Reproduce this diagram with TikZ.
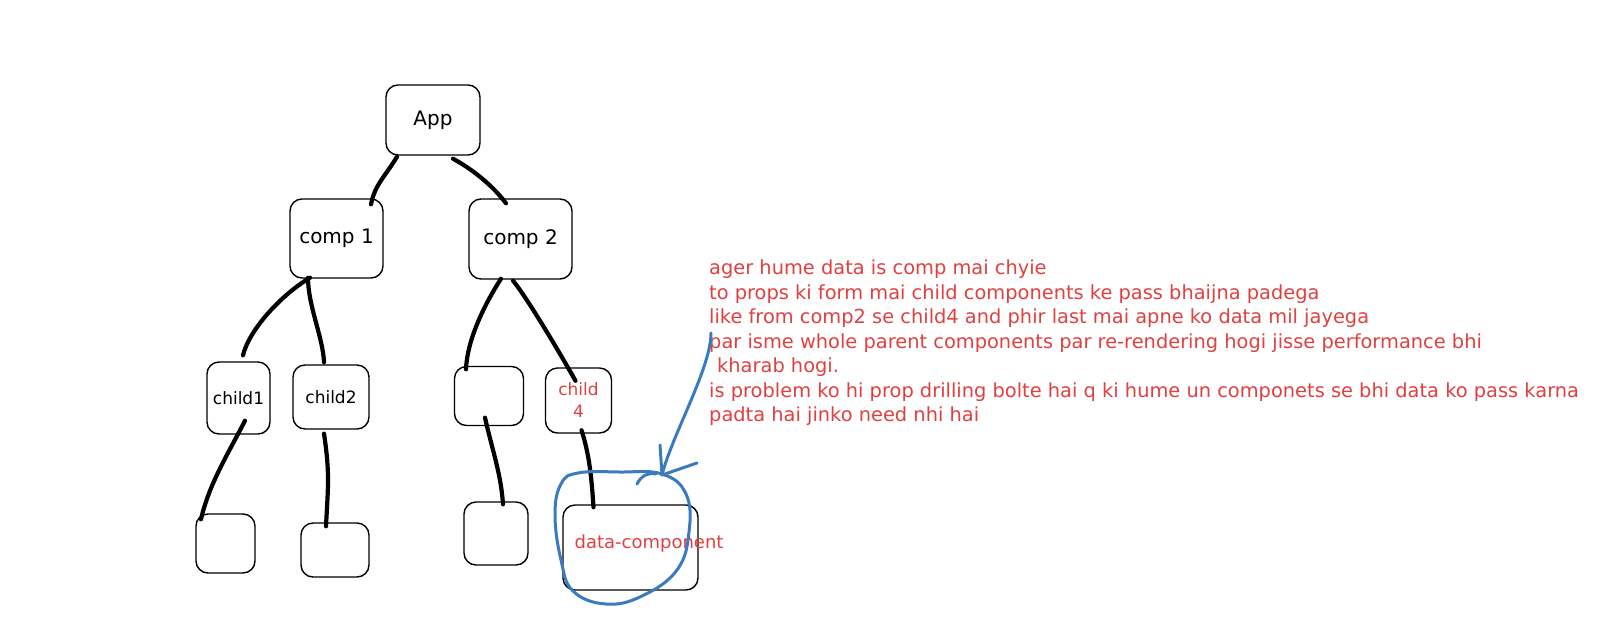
\documentclass[tikz,border=0pt]{standalone}
\usepackage{fontspec}
\setmainfont{DejaVu Sans}
\usepackage{xcolor}
\usetikzlibrary{arrows}
\usetikzlibrary{positioning}
\usetikzlibrary{calc}

\begin{document}
\begin{tikzpicture}[x=1pt, y=-1pt,
		box/.style={draw, rounded corners=12pt, line width=1.4pt, inner sep=0pt},
		link/.style={-, draw, line width=4.2pt, line cap=round, color=black},
		pen/.style={-, draw, line width=3pt, line cap=round, line join=round, color={BLUE!100}},
		bigfont/.style={font=\fontsize{20}{24}\selectfont},
		smallfont/.style={font=\fontsize{17}{20}\selectfont},
		redlabel/.style={text={RED!100}, font=\fontsize{17}{22}\selectfont, align=center}]
			\definecolor{RED}{RGB}{224, 64, 64}
			\definecolor{BLUE}{RGB}{58, 122, 190}
			\useasboundingbox (0, 0) rectangle (1600, 643);
			% tree of components
			\node[box, bigfont, minimum width=94, minimum height=70] (app) at (433, 120) {App};
			\node[box, bigfont, minimum width=93, minimum height=79] (comp1) at (336.5, 238.5) {comp 1};
			\node[box, bigfont, minimum width=103, minimum height=80] (comp2) at (520.5, 239) {comp 2};
			\node[box, smallfont, minimum width=63, minimum height=72] (child1) at (238.5, 398) {child1};
			\node[box, smallfont, minimum width=76, minimum height=64] (child2) at (331, 397) {child2};
			\node[box, minimum width=69, minimum height=59] (child3) at (489, 396) {};
			\node[box, redlabel, minimum width=66, minimum height=65] (child4) at (578.5, 400.5) {child\\4};
			\node[box, minimum width=59, minimum height=59] (leaf1) at (225.5, 543.5) {};
			\node[box, minimum width=68, minimum height=54] (leaf2) at (335, 550) {};
			\node[box, minimum width=64, minimum height=63] (leaf3) at (496, 533.5) {};
			\node[box, minimum width=135, minimum height=85] (datacomp) at (630.5, 547.5) {};
			\node[redlabel, font=\fontsize{18}{22}\selectfont] (datalabel) at (649, 544) {data-component};
			% note
			\node[anchor=north west, inner sep=0pt, align=left, text={RED!100}, font=\fontsize{19.4}{24.5}\selectfont] (note) at (709, 260) {ager hume data is comp mai chyie\\
				to props ki form mai child components ke pass bhaijna padega\\
				like from comp2 se child4 and phir last mai apne ko data mil jayega\\
				par isme whole parent components par re-rendering hogi jisse performance bhi\\
				\hspace*{8pt}kharab hogi.\\
				is problem ko hi prop drilling bolte hai q ki hume un componets se bhi data ko pass karna\\
				padta hai jinko need nhi hai};
			% links
			\draw[link] ($(app.south)+(-36,1)$) .. controls +(-12,20) and +(4,-20) .. ($(comp1.north)+(34.5,6)$);
			\draw[link] ($(app.south)+(20,3)$) .. controls +(22,12) and +(-12,-16) .. ($(comp2.north)+(-14.5,5)$);
			\draw[link] ($(comp1.south)+(-26.5,-1)$) .. controls +(-30,18) and +(6,-25) .. ($(child1.north)+(4.5,-6)$);
			\draw[link] ($(comp1.south)+(-28.5,-1)$) .. controls +(0,28) and +(-1,-25) .. ($(child2.north)+(-7,-2)$);
			\draw[link] ($(comp2.south)+(-19.5,-1)$) .. controls +(-18,28) and +(1,-28) .. ($(child3.north)+(-23,3.5)$);
			\draw[link] ($(comp2.south)+(-7.5,1)$) .. controls +(15,18) and +(-10,-18) .. ($(child4.north)+(-3,13.5)$);
			\draw[link] ($(child1.south)+(6.5,-14)$) .. controls +(-18,35) and +(8,-35) .. ($(leaf1.north)+(-24.5,6)$);
			\draw[link] ($(child2.south)+(-7,4)$) .. controls +(6,40) and +(2,-40) .. ($(leaf2.north)+(-9,4)$);
			\draw[link] ($(child3.south)+(-4,-8.5)$) .. controls +(8,35) and +(-2,-30) .. ($(leaf3.north)+(7,3)$);
			\draw[link] ($(child4.south)+(3,-3.5)$) .. controls +(8,25) and +(-2,-30) .. ($(datacomp.north)+(-37,3)$);
			% blue marks
			\coordinate (arrowstart) at (711, 333);
			\coordinate (arrowtip) at (662, 475);
			\draw[pen] plot[smooth cycle, tension=0.7] coordinates {(578, 473) (620, 472) (662, 474) (686, 494) (689, 532) (677, 570) (642, 596) (606, 604) (573, 591) (561, 560) (555, 515) (561, 484)};
			\draw[pen] (arrowstart) .. controls +(0,35) and +(10,-40) .. (arrowtip);
			\draw[pen] ($(arrowtip)+(-2,-30)$) -- (arrowtip) -- ($(arrowtip)+(35,-12)$);
			\draw[pen] ($(arrowtip)+(-25,9)$) .. controls +(4,-8) and +(-8,-2) .. ($(arrowtip)+(-6,-1)$);
		\end{tikzpicture}
\end{document}
